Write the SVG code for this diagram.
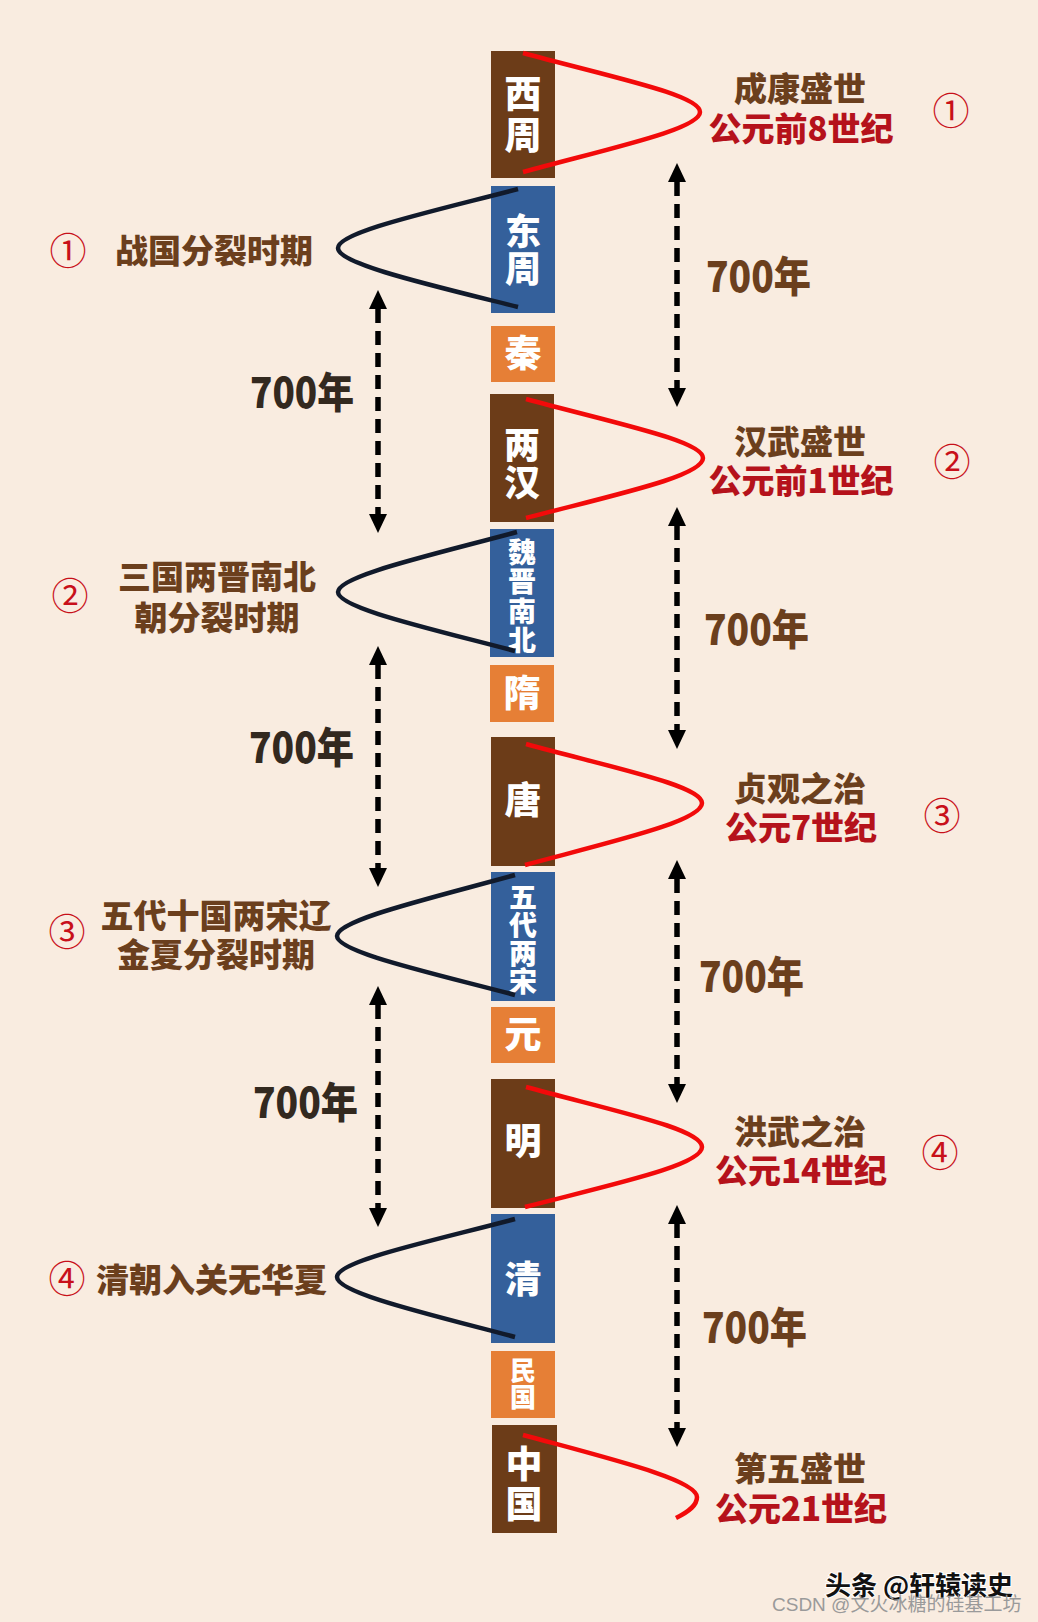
<svg xmlns="http://www.w3.org/2000/svg" width="1038" height="1622" viewBox="0 0 1038 1622">
<style>
.bg{fill:#f9ece0}
.brown{fill:#6c3c18}
.blue{fill:#34609b}
.orange{fill:#e67f36}
.bt{font-family:"Noto Sans CJK SC","Noto Sans",sans-serif;font-weight:900;fill:#ffffff;text-anchor:middle}
.vt{font-family:"Noto Sans CJK SC","Noto Sans",sans-serif;font-weight:900;fill:#ffffff;text-anchor:middle;writing-mode:vertical-rl;dominant-baseline:central}
.lab{font-family:"Noto Sans CJK SC","Noto Sans",sans-serif;font-weight:900;font-size:33px}
.br{fill:#6b3f1d}
.rd{fill:#b5121b}
.num{font-family:"Noto Sans CJK SC",sans-serif;font-size:37px;fill:#c8101a;text-anchor:middle}
.yr{font-family:"Noto Sans CJK SC","Noto Sans",sans-serif;font-weight:900;font-size:42px}
.yl{fill:#33291f}
.red{fill:none;stroke:#f20a0a;stroke-width:4.5;stroke-linecap:butt}
.blk{fill:none;stroke:#111a2b;stroke-width:4.5}
.dash{fill:none;stroke:#000;stroke-width:5.5;stroke-dasharray:14 8;marker-start:url(#ah);marker-end:url(#ah)}
</style>
<defs>
<marker id="ah" markerUnits="userSpaceOnUse" markerWidth="19" markerHeight="19" refX="0" refY="9" orient="auto-start-reverse" viewBox="0 0 19 18">
<path d="M0,0 L19,9 L0,18 Z" fill="#000"/>
</marker>
</defs>
<rect class="bg" x="0" y="0" width="1038" height="1622"/>

<g id="n-xizhou"><rect class="brown" x="491" y="51" width="64" height="127"/><text class="vt" font-size="37" letter-spacing="4" x="523" y="116">西周</text></g>
<g id="n-dongzhou"><rect class="blue" x="491" y="186" width="64" height="127"/><text class="vt" font-size="36" letter-spacing="1" x="523" y="250">东周</text></g>
<g id="n-qin"><rect class="orange" x="491" y="326" width="64" height="56"/><text class="bt" font-size="37" x="523" y="367">秦</text></g>
<g id="n-lianghan"><rect class="brown" x="490" y="394" width="64" height="128"/><text class="vt" font-size="36" letter-spacing="2" x="522" y="464">两汉</text></g>
<g id="n-weijin"><rect class="blue" x="490" y="529" width="64" height="128"/><text class="vt" font-size="28" letter-spacing="1.3" x="522" y="597">魏晋南北</text></g>
<g id="n-sui"><rect class="orange" x="490" y="665" width="64" height="57"/><text class="bt" font-size="37" x="522" y="707">隋</text></g>
<g id="n-tang"><rect class="brown" x="491" y="737" width="64" height="129"/><text class="bt" font-size="37" x="523" y="814">唐</text></g>
<g id="n-wudai"><rect class="blue" x="491" y="872" width="64" height="129"/><text class="vt" font-size="28" x="523" y="939">五代两宋</text></g>
<g id="n-yuan"><rect class="orange" x="491" y="1007" width="64" height="56"/><text class="bt" font-size="37" x="523" y="1048">元</text></g>
<g id="n-ming"><rect class="brown" x="491" y="1079" width="64" height="129"/><text class="bt" font-size="37" x="523" y="1155">明</text></g>
<g id="n-qing"><rect class="blue" x="491" y="1214" width="64" height="129"/><text class="bt" font-size="37" x="523" y="1293">清</text></g>
<g id="n-minguo"><rect class="orange" x="491" y="1351" width="64" height="67"/><text class="vt" font-size="26" letter-spacing="1" x="523" y="1384">民国</text></g>
<g id="n-zhongguo"><rect class="brown" x="492" y="1425" width="65" height="108"/><text class="vt" font-size="37" letter-spacing="3" x="524" y="1485">中国</text></g>

<g id="connectors">
<path class="red" d="M523,53 C615,78 700,95 700,112 C700,129 615,147 523,172"/>
<path class="red" d="M526,399 C618,424 703,441 703,458 C703,476 618,494 526,518"/>
<path class="red" d="M526,744 C618,769 702,786 702,803 C702,821 618,840 525,865"/>
<path class="red" d="M526,1087 C618,1112 702,1129 702,1147 C702,1165 618,1183 525,1207"/>
<path class="red" d="M523,1435 C615,1460 697,1480 697,1497 C697,1505 690,1511 676,1518"/>
<path class="blk" d="M518,189 C430,212 338,232 338,248 C338,264 430,285 518,307"/>
<path class="blk" d="M517,532 C428,556 338,576 338,592 C338,608 428,628 515,651"/>
<path class="blk" d="M515,875 C428,899 337,920 337,936 C337,952 428,972 515,995"/>
<path class="blk" d="M515,1219 C428,1242 337,1261 337,1277 C337,1293 428,1314 515,1337"/>
<path class="dash" d="M677,182 L677,388"/>
<path class="dash" d="M677,526 L677,730"/>
<path class="dash" d="M677,879 L677,1084"/>
<path class="dash" d="M677,1224 L677,1428"/>
<path class="dash" d="M378,309 L378,514"/>
<path class="dash" d="M378,665 L378,868"/>
<path class="dash" d="M378,1005 L378,1208"/>
</g>

<g id="right-labels">
<text class="lab" text-anchor="middle"><tspan class="br" x="800" y="101">成康盛世</tspan><tspan class="rd" x="801" y="141">公元前8世纪</tspan></text>
<text class="num" x="951" y="125">①</text>
<text class="lab" text-anchor="middle"><tspan class="br" x="800" y="454">汉武盛世</tspan><tspan class="rd" x="801" y="493">公元前1世纪</tspan></text>
<text class="num" x="952" y="476">②</text>
<text class="lab" text-anchor="middle"><tspan class="br" x="800" y="801">贞观之治</tspan><tspan class="rd" x="801" y="840">公元7世纪</tspan></text>
<text class="num" x="942" y="830">③</text>
<text class="lab" text-anchor="middle"><tspan class="br" x="800" y="1144">洪武之治</tspan><tspan class="rd" x="801" y="1183">公元14世纪</tspan></text>
<text class="num" x="940" y="1167">④</text>
<text class="lab" text-anchor="middle"><tspan class="br" x="800" y="1481">第五盛世</tspan><tspan class="rd" x="801" y="1521">公元21世纪</tspan></text>
</g>

<g id="left-labels">
<text class="num" x="68" y="265">①</text>
<text class="lab br" x="115" y="263">战国分裂时期</text>
<text class="num" x="70" y="610">②</text>
<text class="lab br" text-anchor="middle"><tspan x="217" y="589">三国两晋南北</tspan><tspan x="217" y="630">朝分裂时期</tspan></text>
<text class="num" x="67" y="946">③</text>
<text class="lab br" text-anchor="middle"><tspan x="216" y="928">五代十国两宋辽</tspan><tspan x="216" y="967">金夏分裂时期</tspan></text>
<text class="num" x="67" y="1293">④</text>
<text class="lab br" x="96" y="1292">清朝入关无华夏</text>
</g>

<g id="years">
<text class="yr br" x="706" y="292" textLength="105" lengthAdjust="spacingAndGlyphs">700年</text>
<text class="yr br" x="704" y="645" textLength="105" lengthAdjust="spacingAndGlyphs">700年</text>
<text class="yr br" x="699" y="992" textLength="105" lengthAdjust="spacingAndGlyphs">700年</text>
<text class="yr br" x="702" y="1343" textLength="105" lengthAdjust="spacingAndGlyphs">700年</text>
<text class="yr yl" x="250" y="408" textLength="104" lengthAdjust="spacingAndGlyphs">700年</text>
<text class="yr yl" x="249" y="763" textLength="105" lengthAdjust="spacingAndGlyphs">700年</text>
<text class="yr yl" x="253" y="1118" textLength="105" lengthAdjust="spacingAndGlyphs">700年</text>
</g>

<g id="watermark">
<text x="825" y="1595" font-family="Noto Sans CJK SC,sans-serif" font-size="26" font-weight="bold" fill="#111" stroke="#fff" stroke-width="2" paint-order="stroke">头条 @轩辕读史</text>
<text x="772" y="1611" font-family="Liberation Sans,Noto Sans CJK SC,sans-serif" font-size="19" fill="#9a9a9a">CSDN @文火冰糖的硅基工坊</text>
</g>
</svg>
